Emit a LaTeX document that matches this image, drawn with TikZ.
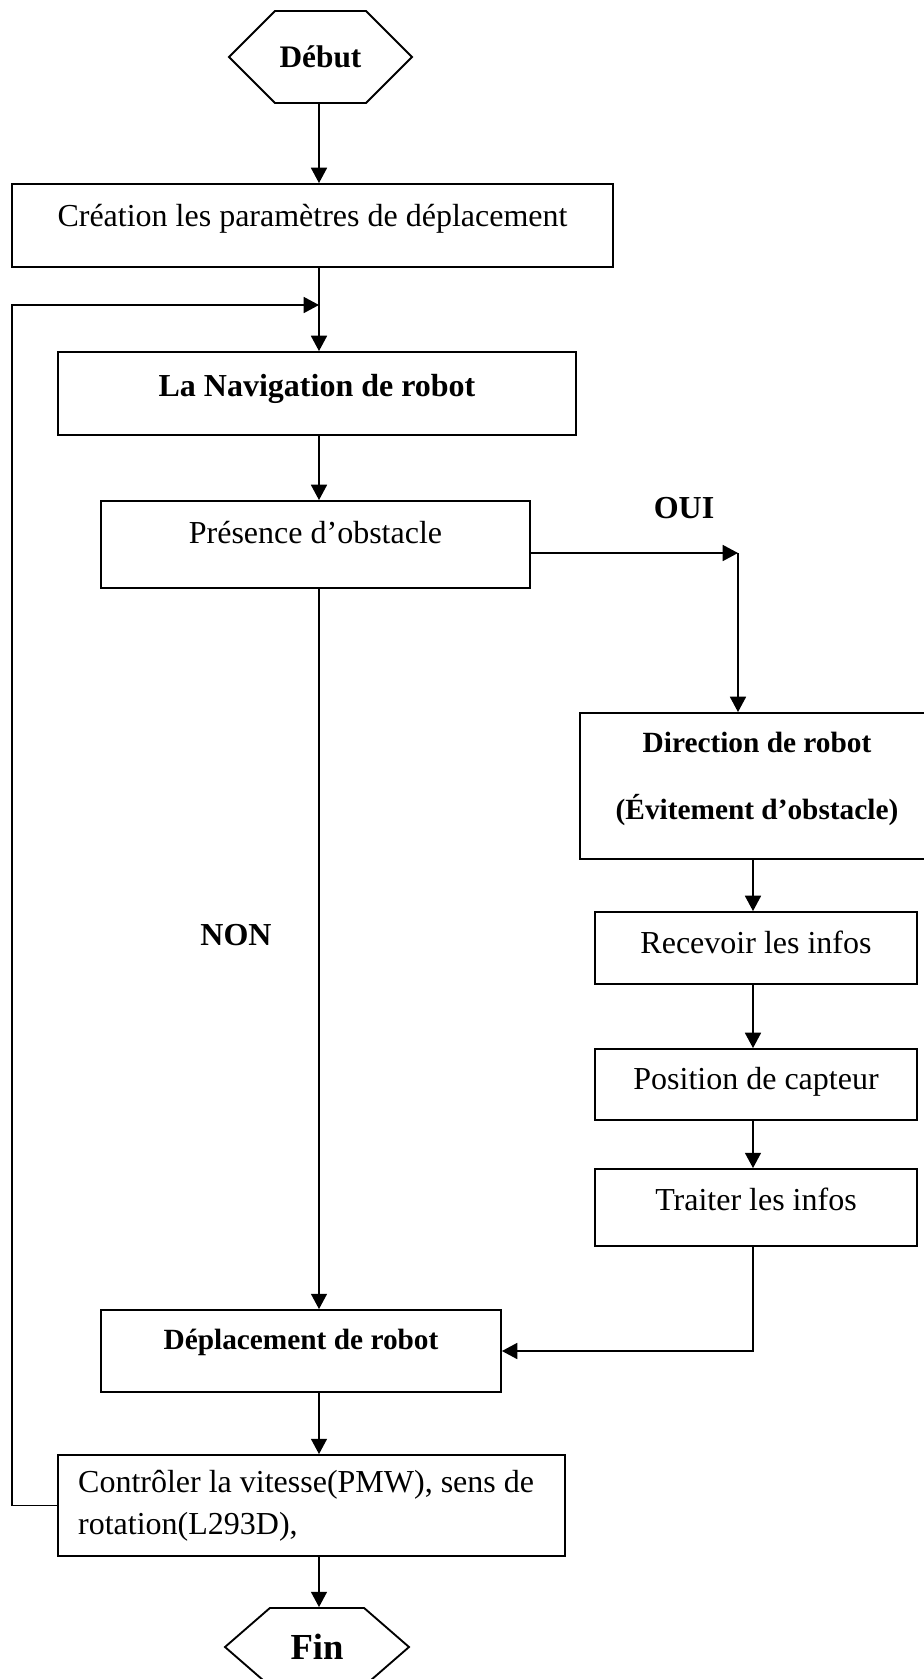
\documentclass[tikz,border=0pt]{standalone}
\usepackage{fontspec}
\setmainfont{Liberation Serif}
\usetikzlibrary{arrows.meta,shapes.symbols}

\begin{document}
\begin{tikzpicture}[x=0.75pt,y=0.75pt,yscale=-1,xscale=1,
  frame/.style={draw, line width=1.4pt, inner sep=0pt},
  box/.style={frame, font=\fontsize{24}{29}\selectfont, text height=17pt, text depth=15.5pt},
  hexa/.style={draw, line width=1.4pt, shape=signal, signal to=east and west, signal from=nowhere, inner sep=0pt, font=\bfseries\fontsize{23.5}{28}\selectfont},
  tag/.style={font=\bfseries\fontsize{24}{29}\selectfont},
  link/.style={line width=1.2pt, -{Triangle[length=11.5pt,width=12pt]}}]
%set diagram left start at 0, and has height of 1679
\useasboundingbox (0,0) rectangle (924,1679);
\clip (0,0) rectangle (924,1679);

%Shape: Hexagon [debut]
\node[hexa, minimum width=137.25pt, minimum height=69pt, signal pointer angle=90] (debut) at (320.5,57) {Début};
%Shape: Rectangle [creation]
\node[box, minimum width=450.75pt, minimum height=62.25pt] (creation) at (312.5,225.5) {Création les paramètres de déplacement};
%Shape: Rectangle [navigation]
\node[box, font=\bfseries\fontsize{24}{29}\selectfont, text depth=13pt, minimum width=388.5pt, minimum height=62.25pt] (navigation) at (317,393.5) {La Navigation de robot};
%Shape: Rectangle [presence]
\node[box, text depth=18.5pt, minimum width=321.75pt, minimum height=65.25pt] (presence) at (315.5,544.5) {Présence d’obstacle};
%Shape: Rectangle [direction]
\node[frame, align=center, font=\bfseries\fontsize{22}{26}\selectfont, minimum width=265.5pt, minimum height=109.5pt] (direction) at (757,786) {Direction de robot\\[24pt](Évitement d’obstacle)\rule[-15pt]{0pt}{15pt}};
%Shape: Rectangle [recevoir]
\node[box, text depth=9pt, minimum width=241.5pt, minimum height=54pt] (recevoir) at (756,948) {Recevoir les infos};
%Shape: Rectangle [position]
\node[box, text depth=9pt, minimum width=241.5pt, minimum height=53.25pt] (position) at (756,1084.5) {Position de capteur};
%Shape: Rectangle [traiter]
\node[box, text depth=13pt, minimum width=241.5pt, minimum height=57.75pt] (traiter) at (756,1207.5) {Traiter les infos};
%Shape: Rectangle [deplacement]
\node[box, font=\bfseries\fontsize{22}{26}\selectfont, text depth=19pt, minimum width=300pt, minimum height=61.5pt] (deplacement) at (301,1351) {Déplacement de robot};
%Shape: Rectangle [controle]
\node[frame, align=flush left, text width=350pt, inner xsep=15pt, font=\fontsize{24}{31.7}\selectfont, minimum width=380.25pt, minimum height=75.75pt] (controle) at (311.5,1505.5) {Contrôler la vitesse(PMW), sens de\\rotation(L293D),};
%Shape: Hexagon [fin]
\node[hexa, minimum width=138pt, minimum height=58.5pt, signal pointer angle=82, font=\bfseries\fontsize{27.5}{33}\selectfont] (fin) at (317,1647) {Fin};

% Text Node
\node[tag] (oui) at (684,508) {OUI};
% Text Node
\node[tag] (non) at (236,935) {NON};

%Corners of the lines
\coordinate (spine) at (319,0);
\coordinate (rspine) at (753,0);
\coordinate (ouicorner) at (738,553);
\coordinate (retour) at (12,305);

%Straight Lines
\draw[link] (spine |- debut.south) -- (spine |- creation.north);
\draw[link] (spine |- creation.south) -- (spine |- navigation.north);
\draw[link] (spine |- navigation.south) -- (spine |- presence.north);
\draw[link] (spine |- presence.south) -- (spine |- deplacement.north);
\draw[link] (ouicorner -| presence.east) -- (ouicorner);
\draw[link] (ouicorner) -- (ouicorner |- direction.north);
\draw[link] (rspine |- direction.south) -- (rspine |- recevoir.north);
\draw[link] (rspine |- recevoir.south) -- (rspine |- position.north);
\draw[link] (rspine |- position.south) -- (rspine |- traiter.north);
\draw[link] (rspine |- traiter.south) |- (deplacement.east);
\draw[link] (spine |- deplacement.south) -- (spine |- controle.north);
\draw[link] (controle.west) -| (retour) -- (spine |- retour);
\draw[link] (spine |- controle.south) -- (spine |- fin.north);

\end{tikzpicture}
\end{document}
